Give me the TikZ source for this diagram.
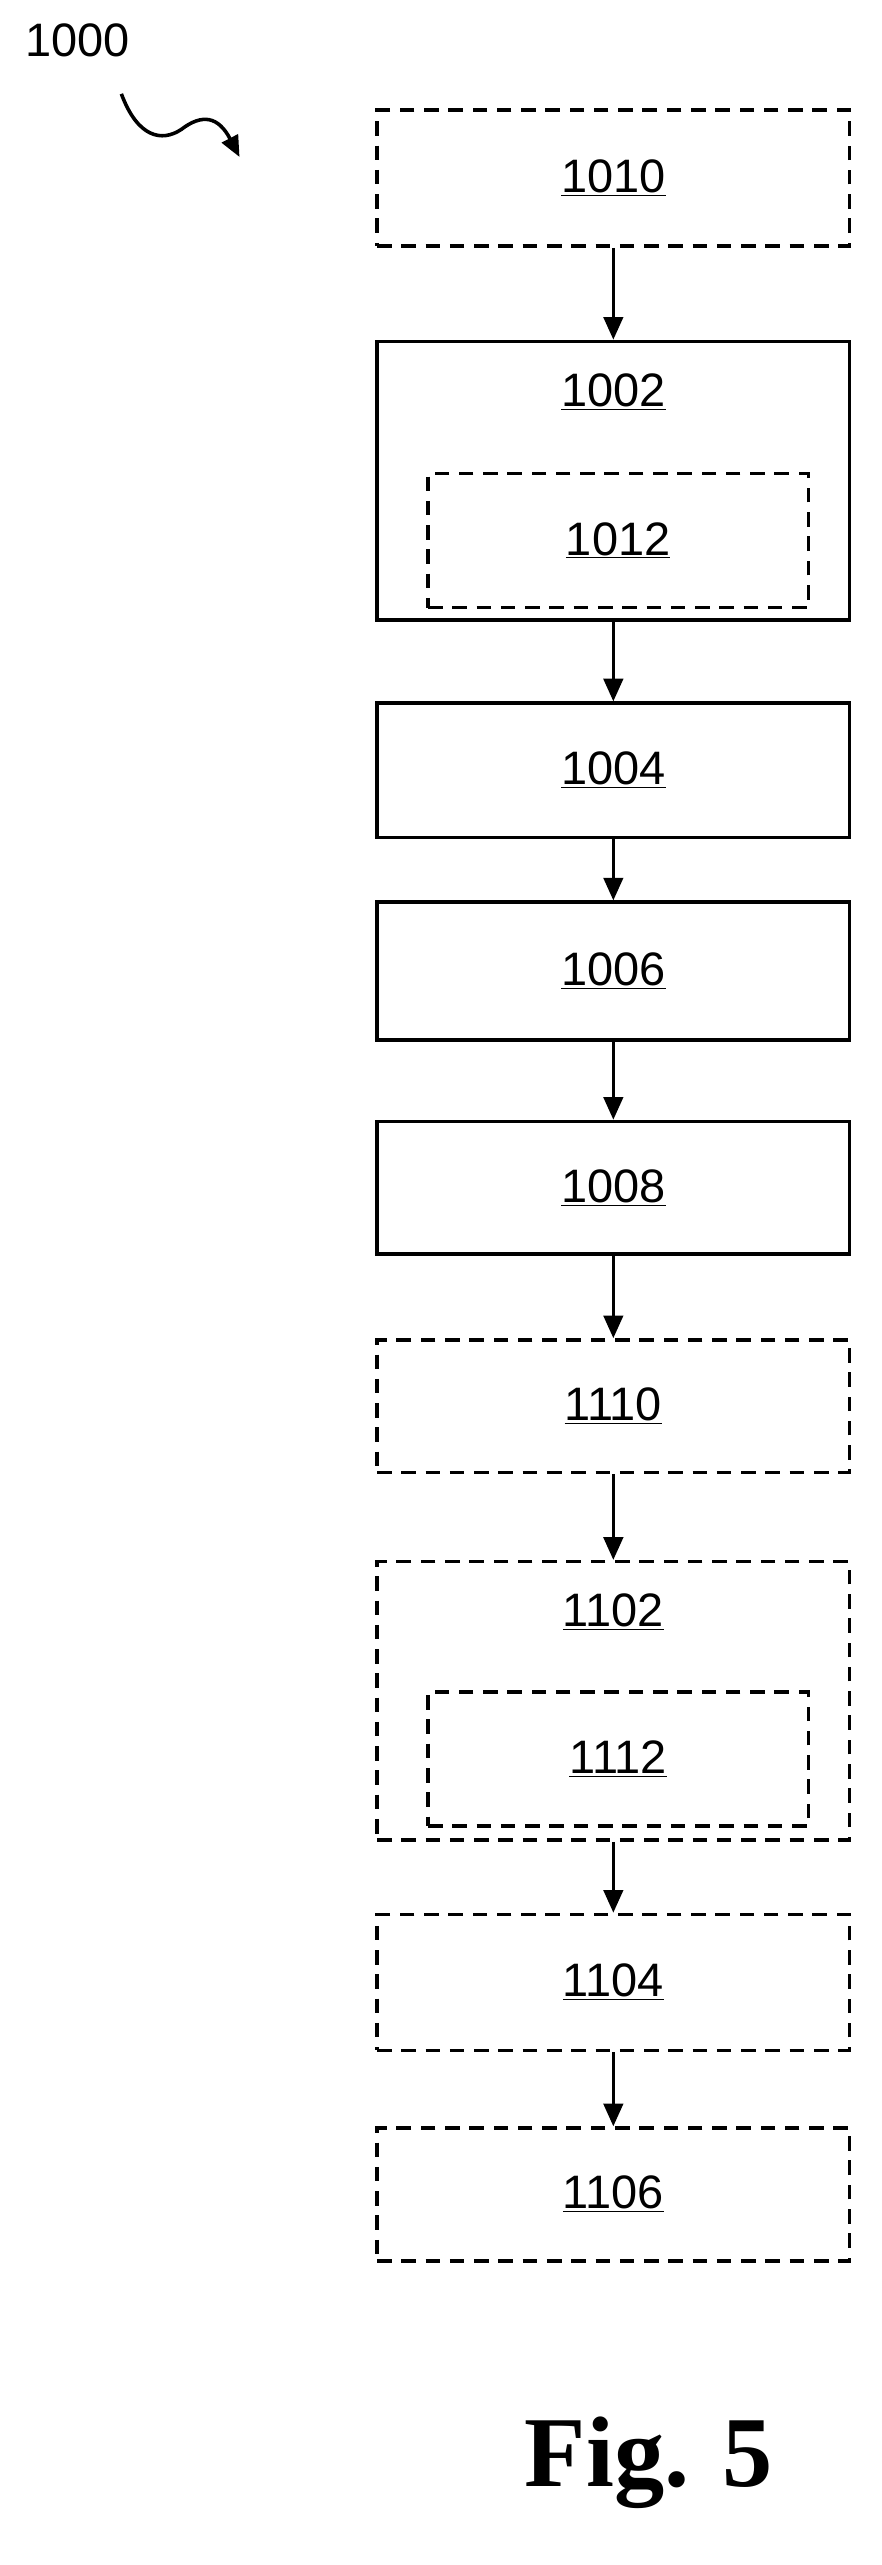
\documentclass[tikz,border=0pt]{standalone}
\usepackage{fontspec}
\setmainfont{Liberation Sans}
\newfontfamily\figfont{Liberation Serif}
\usetikzlibrary{arrows.meta}
\begin{document}
\begin{tikzpicture}[x=1pt,y=-1pt,
  box/.style={draw,line width=2.2pt,minimum width=292pt,inner sep=0pt,font=\fontsize{29}{29}\selectfont},
  dbox/.style={box,dash pattern=on 9pt off 6pt},
  arr/.style={line width=2pt,-{Triangle[length=14pt,width=12pt]}}]
\useasboundingbox (0,0) rectangle (545,1585);
\node[font=\fontsize{29}{29}\selectfont] (lbl) at (48,25) {1000};
\coordinate (s0) at (75,58);
\coordinate (s1) at (148,97);
\draw[line width=2.2pt,-{Triangle[length=13pt,width=11pt]}] (s0) .. controls (85,85) and (100,88) .. (112,80) .. controls (125,70) and (135,72) .. (s1);
\node[dbox,minimum height=84pt] (b1010) at (379,110) {\underline{1010}};
\node[box,minimum height=172pt] (b1002) at (379,297) {};
\node[font=\fontsize{29}{29}\selectfont] (t1002) at (379,242) {\underline{1002}};
\node[dbox,minimum width=235pt,minimum height=83pt] (b1012) at (382,334) {\underline{1012}};
\node[box,minimum height=83pt] (b1004) at (379,476) {\underline{1004}};
\node[box,minimum height=85pt] (b1006) at (379,600) {\underline{1006}};
\node[box,minimum height=82pt] (b1008) at (379,734) {\underline{1008}};
\node[dbox,minimum height=82pt] (b1110) at (379,869) {\underline{1110}};
\node[dbox,minimum height=172pt] (b1102) at (379,1051) {};
\node[font=\fontsize{29}{29}\selectfont] (t1102) at (379,996) {\underline{1102}};
\node[dbox,minimum width=235pt,minimum height=83pt] (b1112) at (382,1087) {\underline{1112}};
\node[dbox,minimum height=84pt] (b1104) at (379,1225) {\underline{1104}};
\node[dbox,minimum height=82pt] (b1106) at (379,1356) {\underline{1106}};
\node[font=\figfont\bfseries\fontsize{62}{62}\selectfont] (fig) at (401,1522) {Fig. 5};
\draw[arr] (b1010) -- (b1002);
\draw[arr] (b1002) -- (b1004);
\draw[arr] (b1004) -- (b1006);
\draw[arr] (b1006) -- (b1008);
\draw[arr] (b1008) -- (b1110);
\draw[arr] (b1110) -- (b1102);
\draw[arr] (b1102) -- (b1104);
\draw[arr] (b1104) -- (b1106);
\end{tikzpicture}
\end{document}
